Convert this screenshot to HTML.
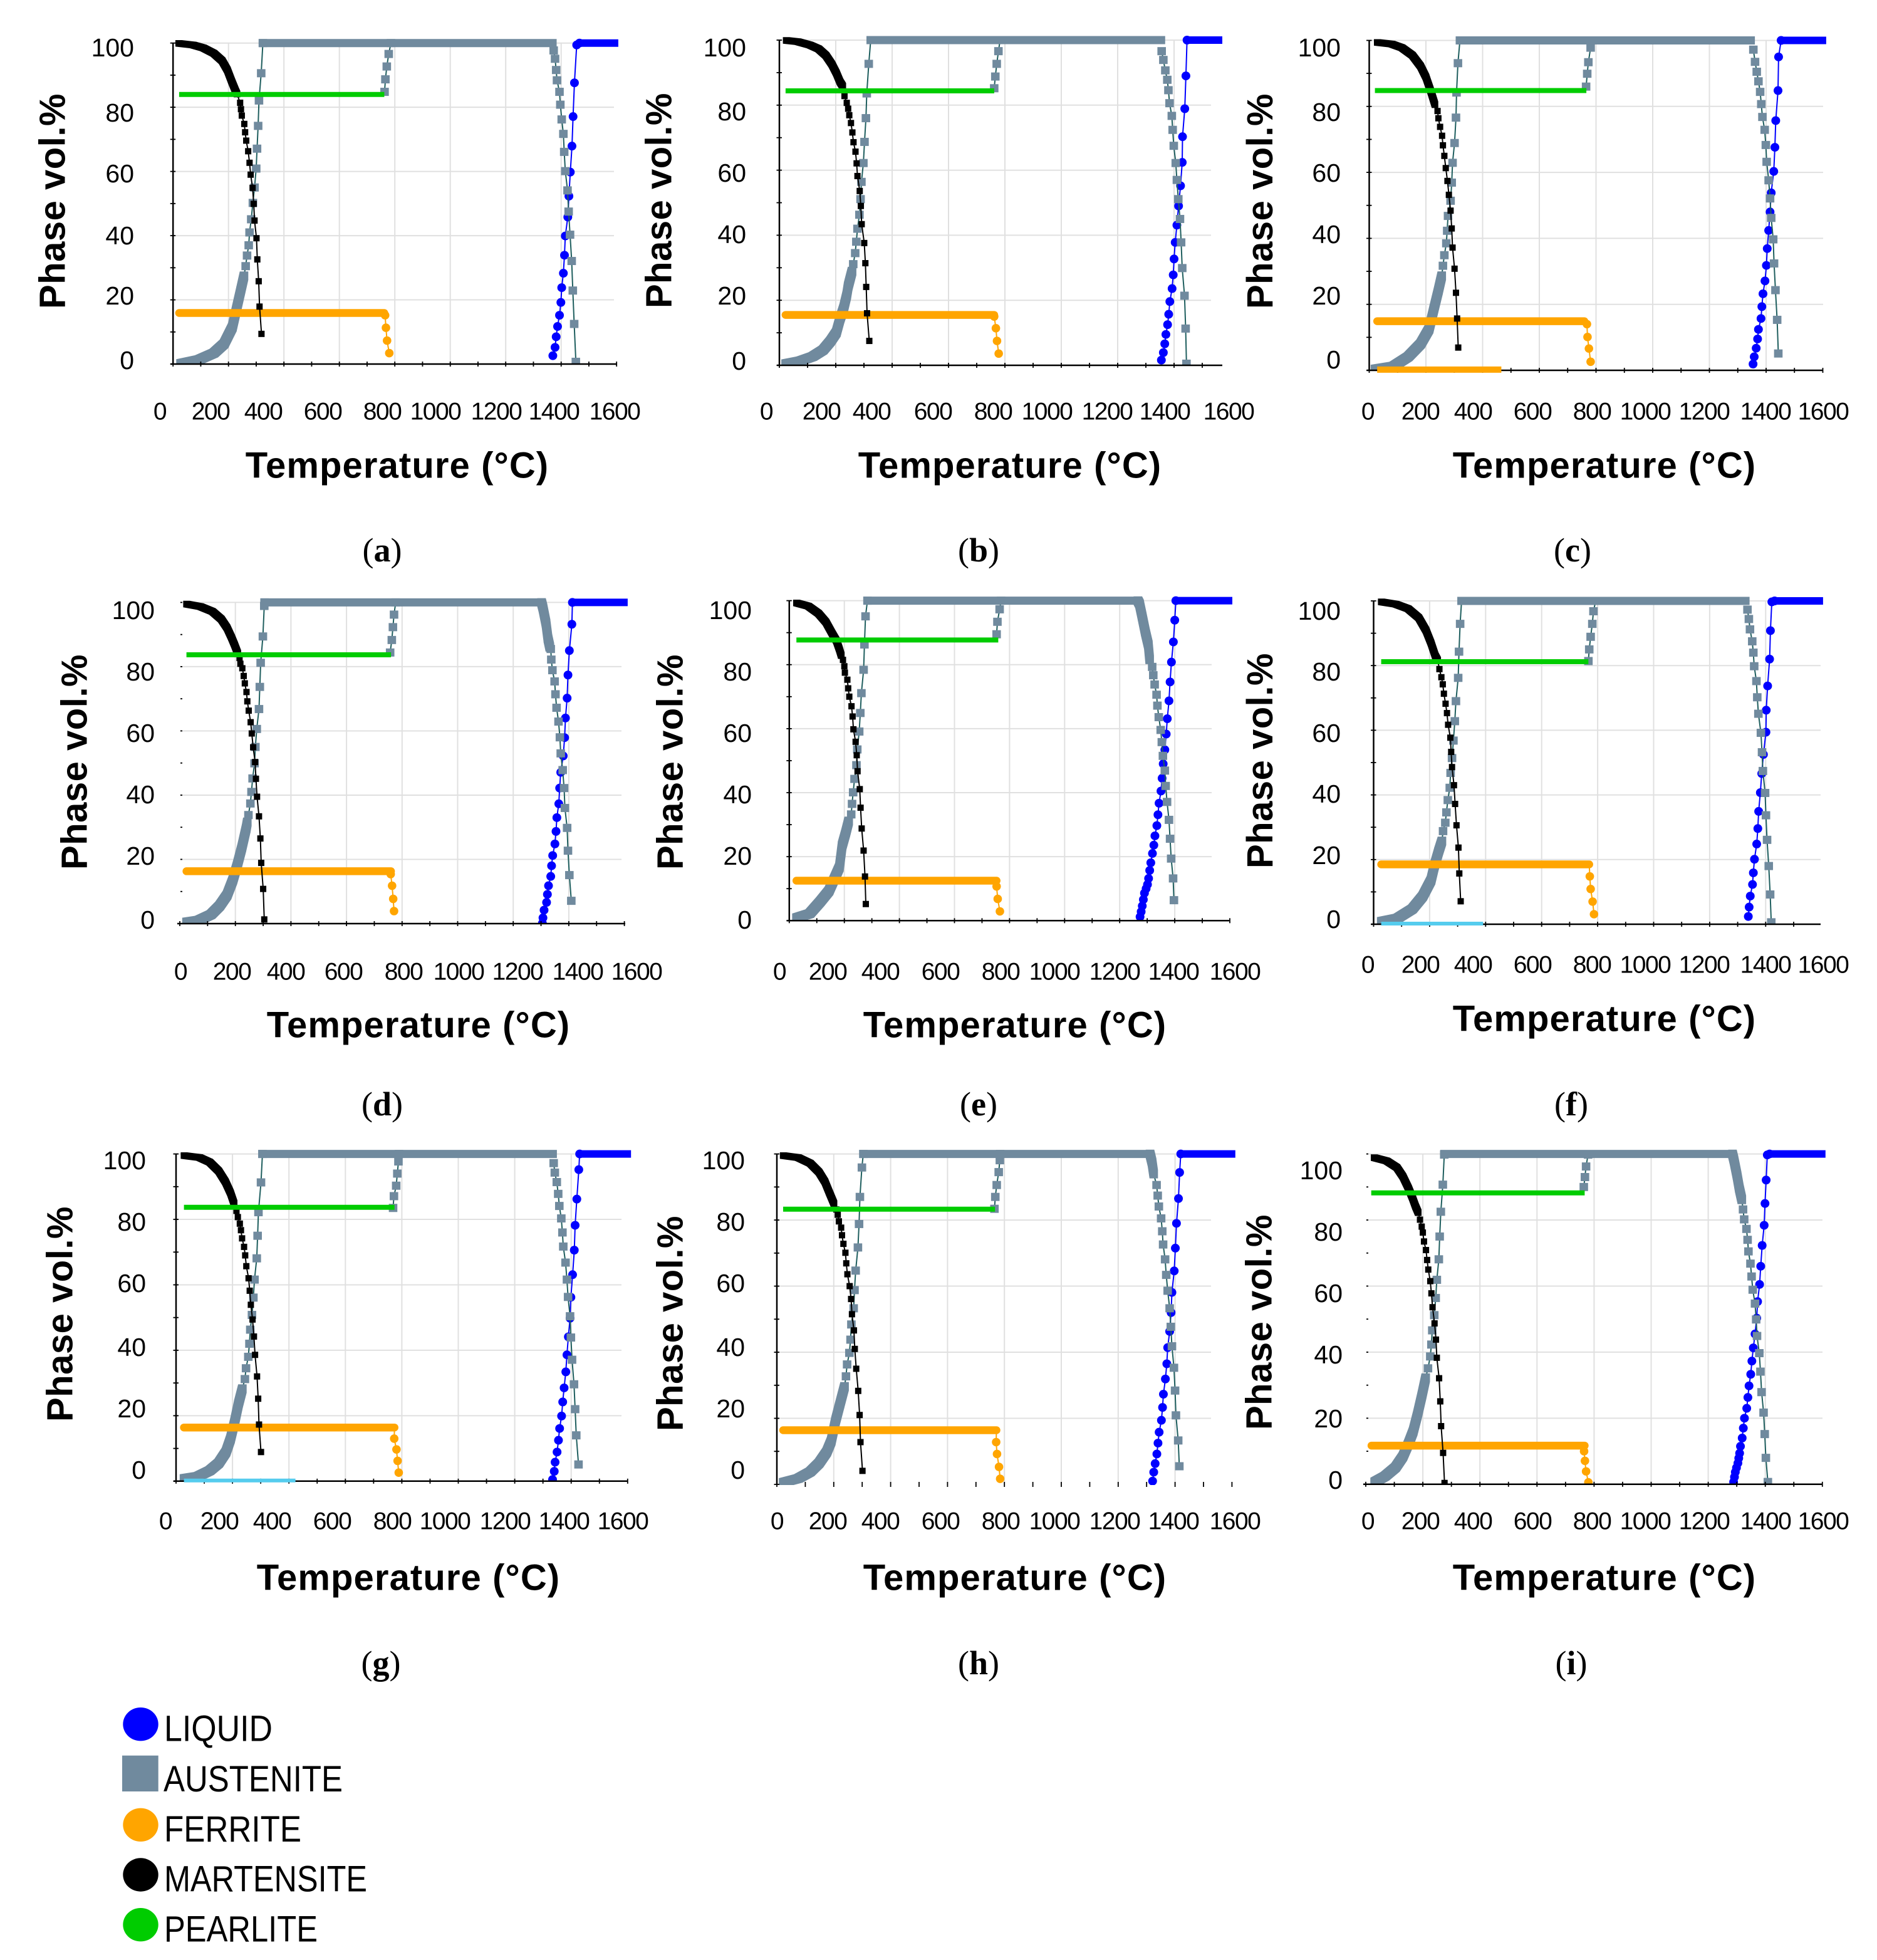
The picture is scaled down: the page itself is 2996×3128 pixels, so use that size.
<!DOCTYPE html>
<html lang="en">
<head>
<meta charset="utf-8">
<title>Phase fraction versus temperature panels</title>
<style>
html,body{margin:0;padding:0;background:#fff;}
svg{display:block;}
text{font-family:"Liberation Sans",sans-serif;fill:#000;}
</style>
</head>
<body>
<svg id="figure" xmlns="http://www.w3.org/2000/svg" width="2996" height="3128" viewBox="0 0 2996 3128">
<rect x="0" y="0" width="2996" height="3128" fill="#fff"/>
<g id="panels"></g>
<g>
<g><ellipse cx="224.5" cy="2751.7" rx="28.2" ry="26.7" fill="#0000ff"/><text x="262" y="2778.3" font-size="58" textLength="173" lengthAdjust="spacingAndGlyphs">LIQUID</text></g>
<g><rect x="195" y="2801.7" width="57.7" height="57.3" fill="#708a9e"/><text x="261" y="2859" font-size="58" textLength="286" lengthAdjust="spacingAndGlyphs">AUSTENITE</text></g>
<g><ellipse cx="224.5" cy="2912.3" rx="28.2" ry="26.7" fill="#ffa500"/><text x="262" y="2939" font-size="58" textLength="219" lengthAdjust="spacingAndGlyphs">FERRITE</text></g>
<g><ellipse cx="224.5" cy="2992" rx="28.2" ry="26.7" fill="#000"/><text x="262" y="3018.3" font-size="58" textLength="324" lengthAdjust="spacingAndGlyphs">MARTENSITE</text></g>
<g><ellipse cx="224.5" cy="3071.7" rx="28.2" ry="26.7" fill="#00cc00"/><text x="262" y="3098.3" font-size="58" textLength="245" lengthAdjust="spacingAndGlyphs">PEARLITE</text></g>
</g>
</svg>
<script>
// Tick labels and titles
const xTickLabels = ['0','200','400','600','800','1000','1200','1400','1600'];
const yTickLabels = ['100','80','60','40','20','0'];
const xMajorTicks = [200,400,600,800,1000,1200,1400];
const yMajorTicks = [20,40,60,80,100];
const xAllTicks = [0,100,200,300,400,500,600,700,800,900,1000,1100,1200,1300,1400,1500,1600];
const yAllTicks = [0,10,20,30,40,50,60,70,80,90,100];

// Panel (a): each pair is [temperature C, phase vol %]
const aMartBand = [[20,99.9],[72,99.4],[109,98.5],[147,96.8],[177,94.5],[196,91.6],[211,88.2],[226,85],[231,84.1]];
const aMart = [[242,81.4],[245,79.4],[248,77.4],[257,74.8],[260,72.2],[264,69.6],[271,66.3],[276,62.7],[280,59],[287,54.9],[291,49.9],[294,44.7],[301,39.2],[304,32.6],[309,25.8],[312,17.9],[319,9.4]];
const aAustBand = [[27,.2],[94,1.4],[147,3.4],[184,6.3],[214,11.5],[229,17.2],[244,22.9],[256,27.5]];
const aAust = [[262,30.5],[267,33.8],[273,37],[276,41],[282,45.1],[288,50.2],[294,55],[300,60.9],[303,67.1],[307,74.2],[310,82.1],[318,90.6],[324,100]];
const aAustFlat = [[324,100],[1369,100]];
const aMeltBand = [];
const aMelt = [[1373,97.7],[1378,95.1],[1382,91.6],[1385,88.4],[1394,84.8],[1397,80.8],[1402,76.2],[1408,71.7],[1411,66.1],[1415,60.1],[1423,54.1],[1427,47.5],[1432,40.3],[1438,32.1],[1442,22.9],[1447,12.5],[1453,.7]];
const aLiq = [[1370,2.6],[1378,5.2],[1382,8.5],[1387,11.7],[1394,15.2],[1399,19.2],[1402,23.8],[1408,28.3],[1412,33.9],[1415,39.9],[1424,45.8],[1428,52.3],[1433,59.8],[1439,67.9],[1443,77.1],[1448,87.6],[1456,99.4]];
const aLiqFlat = [[1466,100],[1606,100]];
const aFerFlat = [[22,15.9],[762,15.9]];
const aFer = [[765,15.2],[768,11.3],[772,7.3],[780,3.4]];
const aAust2 = [[763,84.8],[766,88.7],[771,92.7],[778,96.6],[786,100]];
const aPearl = [[22,84],[762,84]];
const aLowFlat = [];

// Panel (b)
const bMartBand = [[24,99.9],[66,99.5],[108,98.5],[139,97.3],[165,95.3],[186,92.6],[202,89.9],[215,87.2],[225,85.8]];
const bMart = [[231,82.8],[239,80.7],[244,78.9],[248,76.9],[254,74.5],[259,71.6],[263,68.6],[270,65.7],[274,62.1],[277,58.2],[285,53.6],[289,49],[292,43.4],[301,37.6],[305,31.4],[308,24.1],[311,16],[319,7.5]];
const bAustBand = [[22,.5],[76,1.4],[118,2.7],[155,4.7],[181,7.4],[202,10.1],[215,14.2],[228,17.6],[239,21.6],[244,24.3],[252,27],[258,29]];
const bAust = [[262,31.1],[269,34.5],[273,38],[277,42],[284,46.3],[288,51.1],[291,56.4],[298,62.2],[302,68.7],[307,76],[310,83.6],[317,92.7],[324,100]];
const bAustFlat = [[324,100],[1354,100]];
const bMeltBand = [];
const bMelt = [[1356,96.6],[1362,93.9],[1369,90.7],[1376,87.8],[1380,84.6],[1384,80.6],[1392,76.7],[1395,72.4],[1399,67.5],[1406,62.2],[1410,57],[1415,51.1],[1421,45],[1425,37.8],[1429,29.9],[1437,21.4],[1441,11.3],[1444,.5]];
const bLiq = [[1355,1.6],[1362,3.9],[1367,6.6],[1371,9.5],[1377,12.5],[1381,15.7],[1385,19.6],[1393,23.6],[1397,27.8],[1400,32.7],[1404,37.8],[1410,43.1],[1416,49],[1423,55.2],[1429,62.4],[1430,70.3],[1438,78.9],[1442,89]];
const bLiqFlat = [[1446,100],[1571,100]];
const bFerFlat = [[22,15.5],[762,15.5]];
const bFer = [[762,15],[768,11.4],[772,7.5],[778,3.6]];
const bAust2 = [[762,85.2],[766,88.8],[771,92.7],[777,96.6],[783,100]];
const bPearl = [[22,84.4],[762,84.4]];
const bLowFlat = [];

// Panel (c)
const cMartBand = [[28,99.4],[79,98.9],[115,97.8],[152,95.5],[181,92.2],[200,88.9],[218,84.4],[232,80.5]];
const cMart = [[241,78.6],[244,76.4],[250,73.8],[257,71.1],[260,68.2],[265,65],[270,61.3],[276,57.4],[281,53.2],[287,48.4],[291,43],[294,37.2],[301,30.8],[306,23.5],[310,15.7],[314,6.9]];
const cAustBand = [[20,.4],[86,1.3],[137,4.1],[181,8],[211,12.5],[228,18.6],[244,24.2],[256,28.7]];
const cAust = [[260,31.7],[265,34.9],[272,38.5],[275,42.3],[278,46.8],[287,51.4],[291,56.9],[294,62.9],[301,68.9],[306,76.6],[308,84.2],[313,93.1],[320,100]];
const cAustFlat = [[320,100],[1346,100]];
const cMeltBand = [];
const cMelt = [[1355,97.2],[1361,93.5],[1367,90.5],[1373,87.6],[1379,84.4],[1383,80.7],[1387,76.8],[1395,72.9],[1399,68.3],[1402,63.2],[1409,57.6],[1414,52.1],[1418,46.2],[1425,39.7],[1428,32.4],[1433,24.3],[1439,15.3],[1443,5.1]];
const cLiq = [[1354,1.9],[1358,4.1],[1365,6.7],[1370,9.5],[1373,12.4],[1382,15.7],[1385,19.3],[1389,23.2],[1396,27.1],[1401,31.8],[1404,36.9],[1409,42.4],[1414,48],[1418,53.8],[1427,60.3],[1431,67.6],[1434,75.7],[1442,84.8],[1444,95]];
const cLiqFlat = [[1453,100],[1612,100]];
const cFerFlat = [[28,14.9],[759,14.9]];
const cFer = [[768,14],[770,10.1],[775,6.6],[781,2.6]];
const cAust2 = [[765,86],[769,89.9],[773,93.4],[781,97.8],[781,100]];
const cPearl = [[20,84.8],[766,84.8]];
const cLowFlat = [[28,.2],[466,.2]];

// Panel (d)
const dMartBand = [[24,99.5],[74,98.7],[117,97.2],[149,94.8],[170,92.1],[186,89.1],[197,86.8],[209,84.1]];
const dMart = [[215,82.7],[218,80.9],[225,79.5],[230,77.1],[234,74.8],[240,72.1],[243,69.2],[248,66.3],[255,62.7],[259,59.2],[264,54.9],[271,50.3],[274,45.1],[278,39.5],[285,33.4],[290,26.5],[293,18.9],[300,10.8],[304,1.3]];
const dAustBand = [[24,.5],[69,1.1],[112,2.8],[143,5.5],[170,8.9],[191,13.6],[207,18.3],[223,23.6],[239,29.7],[243,31.7]];
const dAust = [[247,33.8],[254,37.4],[258,41],[262,45.2],[269,49.9],[272,55],[277,60.6],[285,66.8],[288,73.7],[291,81.2],[299,89.4],[304,98.9],[305,100]];
const dAustFlat = [[305,100],[1302,100]];
const dMeltBand = [[1302,100],[1307,98.2],[1318,93.5],[1325,88.8],[1332,86]];
const dMelt = [[1335,85.5],[1337,82.2],[1341,78.9],[1349,75.4],[1352,71.4],[1356,67.2],[1363,62.9],[1368,58],[1371,53],[1378,47.8],[1383,42.2],[1386,36],[1394,29.8],[1397,22.7],[1402,15.1],[1409,7.1]];
const dLiq = [[1305,.1],[1307,1.8],[1311,4.2],[1320,6.6],[1323,9.1],[1327,11.8],[1335,14.7],[1338,18],[1342,21.2],[1350,24.8],[1354,28.7],[1357,33],[1364,37.3],[1367,42.2],[1371,47.1],[1380,52.2],[1385,57.9],[1388,64],[1394,70.2],[1397,77.4],[1402,85],[1411,93.2]];
const dLiqFlat = [[1413,100],[1612,100]];
const dFerFlat = [[24,16.3],[760,16.3]];
const dFer = [[759,15.4],[764,11.8],[768,7.7],[771,3.9]];
const dAust2 = [[757,84.4],[763,88.3],[767,92.3],[771,96.2],[777,100]];
const dPearl = [[24,83.7],[760,83.7]];
const dLowFlat = [];

// Panel (e)
const eMartBand = [[26,99.3],[69,98.3],[106,96],[133,93.3],[155,89.9],[171,87.5],[182,84.8],[189,82.8]];
const eMart = [[195,81.5],[200,79.5],[202,77.5],[211,75.3],[214,72.6],[218,70],[226,67],[230,63.8],[233,59.8],[241,55.9],[245,51.7],[248,46.7],[256,41.1],[259,35.3],[263,28.8],[270,21.9],[275,13.8],[278,5.2]];
const eAustBand = [[26,.9],[74,2.2],[112,5.9],[144,9.3],[165,13.4],[182,16.7],[192,23.5],[205,27.5],[216,31.2]];
const eAust = [[225,33.2],[228,36.5],[232,40.1],[237,44.3],[244,48.6],[247,53.5],[254,59.1],[258,64.9],[262,71.1],[270,78.4],[273,86.3],[277,95.1],[284,100]];
const eAustFlat = [[284,100],[1266,100]];
const eMeltBand = [[1266,100],[1272,99],[1282,94.9],[1293,90.2],[1304,86.2],[1309,81.5]];
const eMelt = [[1318,79.3],[1322,76.7],[1327,73.8],[1334,70.6],[1337,67.2],[1342,63.6],[1349,59.6],[1353,55.8],[1357,51.5],[1364,46.9],[1367,42.1],[1372,37.1],[1379,31.5],[1383,25.6],[1387,19.4],[1394,13.2],[1397,6.4]];
const eLiq = [[1274,1.2],[1278,2.8],[1282,4.6],[1286,6.6],[1290,8.6],[1296,10],[1301,11.3],[1305,13.2],[1309,15.7],[1313,18.1],[1319,21],[1324,23.6],[1328,26.5],[1335,29.7],[1339,33.1],[1343,36.7],[1350,40.5],[1354,44.5],[1358,49],[1364,53.4],[1369,58.3],[1373,63.1],[1379,68.7],[1383,74.6],[1388,80.8],[1395,87.1],[1400,93.9]];
const eLiqFlat = [[1404,100],[1609,100]];
const eFerFlat = [[26,12.5],[753,12.5]];
const eFer = [[753,10.7],[757,6.8],[765,2.9]];
const eAust2 = [[753,89.5],[756,93.4],[764,97.3],[769,100]];
const ePearl = [[26,87.7],[759,87.7]];
const eLowFlat = [];

// Panel (f)
const fMartBand = [[27,99.7],[79,99],[123,97.6],[161,94.8],[187,90.9],[205,87],[220,83.1],[229,81.6]];
const fMart = [[235,78.9],[242,76.4],[247,74.2],[251,71.3],[257,68.2],[262,65.3],[266,61.7],[274,57.7],[277,53.3],[280,48.6],[287,43],[291,37.2],[296,30.6],[303,23.7],[306,15.7],[311,7.1]];
const fAustBand = [[27,.9],[86,1.9],[138,4.7],[175,8.6],[205,13.6],[217,18],[232,22.5],[244,25.8]];
const fAust = [[248,28.8],[256,31.4],[260,34.6],[265,38.4],[272,42.2],[275,46.8],[280,51.4],[285,56.8],[290,62.8],[294,69],[302,76.2],[305,84.3],[309,92.9],[314,100]];
const fAustFlat = [[314,100],[1328,100]];
const fMeltBand = [];
const fMelt = [[1335,97.3],[1340,94.4],[1344,91.2],[1352,87.5],[1356,84],[1359,79.8],[1367,75.2],[1370,70.2],[1374,65.1],[1383,59.2],[1387,53.2],[1390,47.4],[1398,40.6],[1401,33.7],[1405,26.1],[1411,18],[1416,9.2],[1420,.6]];
const fLiq = [[1338,2.4],[1341,5.3],[1345,8.7],[1353,12.3],[1356,15.9],[1360,20.1],[1368,24.8],[1372,29.6],[1375,34.9],[1381,40.7],[1386,46.6],[1392,52.5],[1401,59.4],[1402,66.2],[1407,73.7],[1414,82],[1417,90.8],[1422,99.7]];
const fLiqFlat = [[1432,100],[1605,100]];
const fFerFlat = [[27,18.5],[770,18.5]];
const fFer = [[772,14.8],[775,10.9],[782,7],[787,3.1]];
const fAust2 = [[767,81.4],[770,85],[775,88.9],[781,92.9],[785,96.8],[793,100]];
const fPearl = [[27,81.2],[767,81.2]];
const fLowFlat = [[27,.2],[391,.2]];

// Panel (g)
const gMartBand = [[28,99.5],[83,98.9],[119,97.5],[151,94.8],[175,91.5],[193,88.1],[206,84.8]];
const gMart = [[214,82.6],[219,80.7],[226,78.7],[230,76.7],[234,74.2],[241,71.6],[245,69],[249,65.7],[257,62],[261,58.2],[265,53.9],[271,49.4],[276,44.2],[280,38.6],[287,32],[291,25.2],[294,17.3],[301,8.9]];
const gAustBand = [[28,.8],[78,1.5],[119,3.2],[151,5.5],[177,8.9],[193,12.9],[208,18.3],[221,23.6],[235,28.3]];
const gAust = [[244,31.2],[248,34.5],[256,38],[260,42],[263,46.3],[269,50.8],[274,56.1],[278,61.6],[286,68.1],[289,75],[292,82.2],[301,91.3],[306,100]];
const gAustFlat = [[306,100],[1335,100]];
const gMeltBand = [];
const gMelt = [[1338,97.2],[1342,94.3],[1349,91.4],[1354,87.8],[1358,84.1],[1365,80.3],[1369,76],[1372,71.7],[1380,66.8],[1385,61.6],[1389,56.3],[1396,50.4],[1399,43.9],[1403,37.1],[1410,29.6],[1414,22],[1418,14],[1426,5.1]];
const gLiq = [[1334,.5],[1340,3],[1343,5.8],[1350,8.9],[1355,12.5],[1359,16.1],[1366,19.9],[1370,24.2],[1375,28.5],[1381,33.4],[1385,38.6],[1390,44.1],[1396,49.8],[1399,56.2],[1405,63.1],[1411,70.6],[1414,78.2],[1420,86.2],[1427,95.2]];
const gLiqFlat = [[1430,100],[1612,100]];
const gFerFlat = [[28,16.4],[774,16.4]];
const gFer = [[773,13],[781,9.7],[785,6.2],[789,2.6]];
const gAust2 = [[769,83.5],[772,87.1],[780,90.3],[784,94],[788,97.7],[790,100]];
const gPearl = [[28,83.7],[774,83.7]];
const gLowFlat = [[28,.2],[423,.2]];

// Panel (h)
const hMartBand = [[22,99.5],[75,98.9],[117,97.2],[148,94.5],[169,91.6],[185,88.2],[201,84.9]];
const hMart = [[209,83.2],[214,81.6],[218,79.6],[226,77.7],[229,75.4],[234,72.8],[241,70.1],[244,66.9],[248,63.6],[256,60],[261,56.1],[264,51.5],[271,46.6],[274,41],[279,35],[286,28.3],[291,21],[294,12.8],[301,4.1]];
const hAustBand = [[22,.6],[75,1.8],[117,3.8],[148,6.4],[175,9.8],[191,13.1],[206,19.1],[222,24.4],[238,29.7]];
const hAust = [[243,32.7],[247,36.3],[255,39.8],[259,43.8],[262,48.4],[270,53.3],[273,58.8],[277,64.7],[285,71.7],[289,78.8],[292,87],[299,95.9],[304,100]];
const hAustFlat = [[304,100],[1312,100]];
const hMeltBand = [[1312,100],[1319,97.5],[1325,93.9]];
const hMelt = [[1335,90.6],[1339,87.4],[1343,84.1],[1351,80.5],[1355,76.6],[1358,72.6],[1365,68.1],[1369,63.4],[1374,58.6],[1381,53.3],[1385,47.7],[1389,41.8],[1396,35.3],[1400,28.4],[1403,20.9],[1411,13.3],[1415,5.5]];
const hLiq = [[1321,1],[1325,3.7],[1330,6.3],[1336,9.2],[1340,12.5],[1344,15.8],[1352,19.4],[1356,23.3],[1359,27.3],[1366,31.9],[1371,36.5],[1374,41.4],[1381,46.3],[1386,52],[1389,58.1],[1397,64.6],[1401,71.5],[1405,79],[1412,86.5],[1416,94.4]];
const hLiqFlat = [[1420,100],[1612,100]];
const hFerFlat = [[22,16.4],[772,16.4]];
const hFer = [[771,12.8],[774,9.2],[781,5.3],[785,1.7]];
const hAust2 = [[765,83.4],[768,87],[773,90.6],[780,94.5],[784,98.1],[785,100]];
const hPearl = [[22,83.3],[767,83.3]];
const hLowFlat = [];

// Panel (i)
const iMartBand = [[29,98.9],[73,97.9],[109,95.9],[130,93.2],[150,89.6],[164,86.6],[174,84.2],[184,82.2]];
const iMart = [[190,80.1],[196,78],[200,76.2],[204,73.5],[211,70.9],[215,67.9],[219,65],[226,61.5],[230,57.8],[234,53.6],[241,48.7],[246,43.8],[249,38.3],[257,32.1],[261,25.1],[264,17.6],[271,9.5],[276,.4]];
const iAustBand = [[31,.7],[67,2.4],[104,5.1],[130,8.4],[150,12.4],[166,16],[181,21],[197,27],[210,32.3]];
const iAust = [[218,35.1],[226,38.7],[230,42.3],[233,46.6],[240,51.2],[245,56.4],[249,61.9],[256,68.1],[259,75],[263,82.5],[270,90.7],[275,99.8]];
const iAustFlat = [[275,100],[1285,100]];
const iMeltBand = [[1285,100],[1290,98.2],[1301,93.5],[1309,89.6],[1318,86.1]];
const iMelt = [[1322,83.2],[1326,80.2],[1334,77.3],[1338,74],[1341,70.5],[1348,66.8],[1352,62.9],[1356,58.9],[1364,54.7],[1368,49.9],[1371,44.9],[1379,39.7],[1383,34.1],[1387,27.9],[1394,21.7],[1398,15.2],[1402,8],[1409,.7]];
const iLiq = [[1289,.7],[1292,2.2],[1295,3.7],[1299,5],[1304,6.4],[1307,7.9],[1310,9.4],[1313,11.5],[1319,14],[1323,17],[1327,20],[1335,23],[1339,26.3],[1343,29.8],[1349,33.3],[1353,37.3],[1358,41.3],[1364,45.5],[1370,50.3],[1373,55.3],[1380,60.5],[1384,66],[1389,72.3],[1396,78.4],[1399,85],[1403,92.1],[1407,99.7]];
const iLiqFlat = [[1415,100],[1611,100]];
const iFerFlat = [[20,11.7],[767,11.7]];
const iFer = [[765,10],[768,7.1],[772,3.9],[780,.6]];
const iAust2 = [[764,90],[768,93],[772,96.2],[779,99.8]];
const iPearl = [[19,88.2],[767,88.2]];
const iLowFlat = [];

// Layout of each panel (axis frame, label placement); not chart data
const rightColumnLabelX = [2183,2267,2351,2446,2541,2626,2720,2818,2910];
const panelLayouts = [
 {id:'a',x0:276.2,per200:88.5,y0:581,y100:68.7,xEnd:984,gridEnd:980,showY:true,showX:true,yLabelRight:214,yLabelY:[76,180,277,376,472,575],xLabelY:657,xLabelX:[255,336,420,515,610,695,792,884,981],yTitle:[84,321],xTitle:[634,743],caption:[610,878],lowColor:'#ffa500'},
 {id:'b',x0:1244,per200:90,y0:583,y100:64,xEnd:1951,gridEnd:1933,showY:true,showX:true,yLabelRight:1191,yLabelY:[76,178,276,374,472,576],xLabelY:657,xLabelX:[1223,1311,1391,1489,1585,1671,1767,1859,1961],yTitle:[1052,320],xTitle:[1612,743],caption:[1562,878],lowColor:'#ffa500'},
 {id:'c',x0:2185.5,per200:90.5,y0:591,y100:64.5,xEnd:2910,gridEnd:2910,showY:true,showX:true,yLabelRight:2140,yLabelY:[76,179,276,374,472,574],xLabelY:657,xLabelX:rightColumnLabelX,yTitle:[2011.5,321],xTitle:[2561,743],caption:[2510,878],lowColor:'#ffa500'},
 {id:'d',x0:287,per200:88.7,y0:1474,y100:961.4,xEnd:998,gridEnd:992,showY:false,showX:true,yLabelRight:247,yLabelY:[974,1072,1170,1268,1366,1468],xLabelY:1551,xLabelX:[288,370,456,548,644,732,826,922,1016],yTitle:[119,1216],xTitle:[668,1636],caption:[610,1762],lowColor:'#ffa500'},
 {id:'e',x0:1259.8,per200:87.9,y0:1469.3,y100:958.6,xEnd:1962,gridEnd:1934,showY:true,showX:true,yLabelRight:1200,yLabelY:[974,1072,1170,1268,1366,1468],xLabelY:1551,xLabelX:[1244,1321,1405,1501,1597,1683,1779,1873,1971],yTitle:[1070,1216],xTitle:[1620,1636],caption:[1562,1762],lowColor:'#ffa500'},
 {id:'f',x0:2192.5,per200:89.4,y0:1475,y100:959,xEnd:2906,gridEnd:2906,showY:true,showX:true,yLabelRight:2140,yLabelY:[975,1072,1170,1267,1365,1467],xLabelY:1540,xLabelX:rightColumnLabelX,yTitle:[2011.5,1214],xTitle:[2561,1626],caption:[2508,1762],lowColor:'#55ccee'},
 {id:'g',x0:281,per200:90.1,y0:2363.8,y100:1841.6,xEnd:1002,gridEnd:992,showY:true,showX:true,yLabelRight:233,yLabelY:[1852,1950,2048,2150,2248,2346],xLabelY:2428,xLabelX:[264,350,434,530,626,710,806,900,994],yTitle:[96,2097],xTitle:[652,2518],caption:[608,2654],lowColor:'#55ccee'},
 {id:'h',x0:1240,per200:90.8,y0:2369,y100:1841.6,xEnd:1968,gridEnd:1933,showY:true,showX:false,yLabelRight:1189,yLabelY:[1852,1950,2048,2150,2248,2346],xLabelY:2428,xLabelX:[1240,1321,1405,1501,1597,1683,1779,1873,1971],yTitle:[1070,2112],xTitle:[1620,2518],caption:[1562,2654],lowColor:'#ffa500'},
 {id:'i',x0:2180,per200:91.1,y0:2368.8,y100:1841.6,xEnd:2909,gridEnd:2909,showY:false,showX:true,yLabelRight:2143,yLabelY:[1868,1966,2064,2162,2264,2362],xLabelY:2428,xLabelX:rightColumnLabelX,yTitle:[2010,2110],xTitle:[2561,2518],caption:[2508,2654],lowColor:'#ffa500'}
];

// Which arrays belong to which panel
const panelData = {
 a:[aMartBand,aMart,aAustBand,aAust,aAustFlat,aMeltBand,aMelt,aLiq,aLiqFlat,aFerFlat,aFer,aAust2,aPearl,aLowFlat],
 b:[bMartBand,bMart,bAustBand,bAust,bAustFlat,bMeltBand,bMelt,bLiq,bLiqFlat,bFerFlat,bFer,bAust2,bPearl,bLowFlat],
 c:[cMartBand,cMart,cAustBand,cAust,cAustFlat,cMeltBand,cMelt,cLiq,cLiqFlat,cFerFlat,cFer,cAust2,cPearl,cLowFlat],
 d:[dMartBand,dMart,dAustBand,dAust,dAustFlat,dMeltBand,dMelt,dLiq,dLiqFlat,dFerFlat,dFer,dAust2,dPearl,dLowFlat],
 e:[eMartBand,eMart,eAustBand,eAust,eAustFlat,eMeltBand,eMelt,eLiq,eLiqFlat,eFerFlat,eFer,eAust2,ePearl,eLowFlat],
 f:[fMartBand,fMart,fAustBand,fAust,fAustFlat,fMeltBand,fMelt,fLiq,fLiqFlat,fFerFlat,fFer,fAust2,fPearl,fLowFlat],
 g:[gMartBand,gMart,gAustBand,gAust,gAustFlat,gMeltBand,gMelt,gLiq,gLiqFlat,gFerFlat,gFer,gAust2,gPearl,gLowFlat],
 h:[hMartBand,hMart,hAustBand,hAust,hAustFlat,hMeltBand,hMelt,hLiq,hLiqFlat,hFerFlat,hFer,hAust2,hPearl,hLowFlat],
 i:[iMartBand,iMart,iAustBand,iAust,iAustFlat,iMeltBand,iMelt,iLiq,iLiqFlat,iFerFlat,iFer,iAust2,iPearl,iLowFlat]
};

const NS = 'http://www.w3.org/2000/svg';
const BLUE = '#0000ff', STEEL = '#708a9e', TEAL = '#1e5e5e', ORANGE = '#ffa500', GREEN = '#00cc00';

function make(parent, tag, attrs, name) {
  const el = document.createElementNS(NS, tag);
  for (const k in attrs) el.setAttribute(k, attrs[k]);
  
  
  parent.appendChild(el);
  return el;
}

function drawPanel(L, D) {
  const [martBand, mart, austBand, aust, austFlat, meltBand, melt, liq, liqFlat, ferFlat, fer, aust2, pearl, lowFlat] = D;
  const xScale = t => L.x0 + t * L.per200 / 200;
  const yScale = v => L.y0 - v / 100 * (L.y0 - L.y100);
  const pts = arr => arr.map(p => xScale(p[0]).toFixed(1) + ',' + yScale(p[1]).toFixed(1)).join(' ');
  // A run of closely spaced square markers merges into a blocky band: sweep a square along each segment
  const sweep = (parent, arr, h, color, name) => {
    for (let i = 0; i + 1 < arr.length; i++) {
      const x1 = xScale(arr[i][0]), y1 = yScale(arr[i][1]), x2 = xScale(arr[i + 1][0]), y2 = yScale(arr[i + 1][1]);
      const hull = y2 <= y1
        ? [[x1-h,y1-h],[x2-h,y2-h],[x2+h,y2-h],[x2+h,y2+h],[x1+h,y1+h],[x1-h,y1+h]]
        : [[x1-h,y1-h],[x1+h,y1-h],[x2+h,y2-h],[x2+h,y2+h],[x2-h,y2+h],[x1-h,y1+h]];
      make(parent, 'polygon', {points:hull.map(q => q[0].toFixed(1) + ',' + q[1].toFixed(1)).join(' '), fill:color}, name);
    }
  };
  const root = document.getElementById('panels');
  const g = make(root, 'g', {}, 'panel-' + L.id);

  const clip = make(g, 'clipPath', {id:'plot-clip-' + L.id}, 'plot-clip-' + L.id);
  make(clip, 'rect', {x:L.x0 - 40, y:L.y100 - 40, width:L.xEnd - L.x0 + 80, height:L.y0 - L.y100 + 41}, 'plot-clip-rect');
  const clipRef = 'url(#plot-clip-' + L.id + ')';

  // Gridlines
  xMajorTicks.forEach(t => {
    make(g, 'line', {x1:xScale(t), x2:xScale(t), y1:yScale(100), y2:yScale(0), stroke:'#e0e0e0', 'stroke-width':2}, 'vertical-gridline-' + t);
  });
  yMajorTicks.forEach(v => {
    make(g, 'line', {x1:L.x0, x2:L.gridEnd, y1:yScale(v), y2:yScale(v), stroke:'#e0e0e0', 'stroke-width':2}, 'horizontal-gridline-' + v);
  });

  // Liquid
  const liqGroup = make(g, 'g', {'clip-path':clipRef}, 'series-liquid');
  make(liqGroup, 'polyline', {points:pts(liq.concat(liqFlat.slice(0,1))), fill:'none', stroke:BLUE, 'stroke-width':2}, 'liquid-line');
  make(liqGroup, 'polyline', {points:pts(liqFlat), fill:'none', stroke:BLUE, 'stroke-width':12}, 'liquid-plateau');
  liq.concat(liqFlat.slice(0,1)).forEach(p => {
    make(liqGroup, 'circle', {cx:xScale(p[0]), cy:yScale(p[1]), r:7, fill:BLUE}, 'liquid-point');
  });

  // Austenite
  const austGroup = make(g, 'g', {'clip-path':clipRef}, 'series-austenite');
  make(austGroup, 'polyline', {points:pts(austBand.concat(aust)), fill:'none', stroke:TEAL, 'stroke-width':2}, 'austenite-rise-line');
  make(austGroup, 'polyline', {points:pts(meltBand.concat(melt)), fill:'none', stroke:TEAL, 'stroke-width':2}, 'austenite-melt-line');
  make(austGroup, 'polyline', {points:pts(aust2), fill:'none', stroke:TEAL, 'stroke-width':2}, 'austenite-step-line');
  sweep(austGroup, austBand, 6.8, STEEL, 'austenite-rise-band');
  sweep(austGroup, meltBand, 6.8, STEEL, 'austenite-melt-band');
  make(austGroup, 'polyline', {points:pts(austFlat), fill:'none', stroke:STEEL, 'stroke-width':13, 'stroke-linecap':'square'}, 'austenite-plateau');
  aust.concat(melt, aust2).forEach(p => {
    make(austGroup, 'rect', {x:xScale(p[0]) - 6.8, y:yScale(p[1]) - 6.5, width:13.6, height:13, fill:STEEL}, 'austenite-point');
  });

  // Ferrite
  const ferGroup = make(g, 'g', {'clip-path':clipRef}, 'series-ferrite');
  make(ferGroup, 'polyline', {points:pts(ferFlat.concat(fer)), fill:'none', stroke:ORANGE, 'stroke-width':2}, 'ferrite-line');
  make(ferGroup, 'polyline', {points:pts(ferFlat), fill:'none', stroke:ORANGE, 'stroke-width':12.5, 'stroke-linecap':'round'}, 'ferrite-plateau');
  fer.forEach(p => {
    make(ferGroup, 'circle', {cx:xScale(p[0]), cy:yScale(p[1]), r:6.8, fill:ORANGE}, 'ferrite-point');
  });

  // Martensite
  const martGroup = make(g, 'g', {'clip-path':clipRef}, 'series-martensite');
  make(martGroup, 'polyline', {points:pts(martBand.concat(mart)), fill:'none', stroke:'#000', 'stroke-width':2}, 'martensite-line');
  sweep(martGroup, martBand, 5.2, '#000', 'martensite-band');
  mart.forEach(p => {
    make(martGroup, 'rect', {x:xScale(p[0]) - 5, y:yScale(p[1]) - 5, width:10, height:10, fill:'#000'}, 'martensite-point');
  });

  // Pearlite
  make(g, 'polyline', {points:pts(pearl), fill:'none', stroke:GREEN, 'stroke-width':8}, 'series-pearlite');

  // Axes
  const axisX = make(g, 'g', {}, 'x-axis');
  if (L.showX) make(axisX, 'line', {x1:L.x0 - 4, x2:L.xEnd, y1:L.y0, y2:L.y0, stroke:'#000', 'stroke-width':2.5}, 'x-axis-line');
  xAllTicks.forEach(t => {
    if (xScale(t) <= L.xEnd + 1) make(axisX, 'line', {x1:xScale(t), x2:xScale(t), y1:L.y0 - 4, y2:L.y0 + 4, stroke:'#000', 'stroke-width':1.8}, 'x-tick-' + t);
  });
  const axisY = make(g, 'g', {}, 'y-axis');
  if (L.showY) make(axisY, 'line', {x1:L.x0, x2:L.x0, y1:yScale(100), y2:yScale(0), stroke:'#000', 'stroke-width':2.5}, 'y-axis-line');
  yAllTicks.forEach(v => {
    const tx = L.showY ? L.x0 - 4.5 : L.x0 + 1;
    const tw = L.showY ? 8.5 : 3;
    make(axisY, 'line', {x1:tx, x2:tx + tw, y1:yScale(v), y2:yScale(v), stroke:'#000', 'stroke-width':1.8}, 'y-tick-' + v);
  });

  // Extra low-temperature phase band lying on the x axis
  if (lowFlat.length) {
    make(g, 'polyline', {points:pts(lowFlat), fill:'none', stroke:L.lowColor, 'stroke-width':L.lowColor === ORANGE ? 10 : 6}, 'low-temperature-phase-band');
  }

  // Tick labels
  xTickLabels.forEach((label, i) => {
    const t = make(g, 'text', {x:L.xLabelX[i], y:L.xLabelY, 'font-size':39, 'text-anchor':'middle', 'dominant-baseline':'central', 'letter-spacing':'-1.5'}, 'x-tick-label-' + label);
    t.textContent = label;
  });
  yTickLabels.forEach((label, i) => {
    const t = make(g, 'text', {x:L.yLabelRight, y:L.yLabelY[i], 'font-size':41, 'text-anchor':'end', 'dominant-baseline':'central'}, 'y-tick-label-' + label);
    t.textContent = label;
  });

  // Axis titles
  const xt = make(g, 'text', {x:L.xTitle[0], y:L.xTitle[1], 'font-size':58, 'font-weight':'bold', 'text-anchor':'middle', 'dominant-baseline':'central', 'letter-spacing':'1.1'}, 'x-axis-title');
  xt.textContent = 'Temperature (\u00B0C)';
  const yt = make(g, 'text', {x:L.yTitle[0], y:L.yTitle[1], 'font-size':58, 'font-weight':'bold', 'text-anchor':'middle', 'dominant-baseline':'central', 'letter-spacing':'0.5', transform:'rotate(-90 ' + L.yTitle[0] + ' ' + L.yTitle[1] + ')'}, 'y-axis-title');
  yt.textContent = 'Phase vol.%';

  // Caption
  const cap = make(g, 'text', {x:L.caption[0], y:L.caption[1], 'font-size':54, 'text-anchor':'middle', 'dominant-baseline':'central', style:'font-family:"Liberation Serif",serif'}, 'panel-caption-' + L.id);
  cap.appendChild(document.createTextNode('('));
  const letter = make(cap, 'tspan', {'font-weight':'bold'}, 'panel-letter-' + L.id);
  letter.textContent = L.id;
  cap.appendChild(document.createTextNode(')'));
}

panelLayouts.forEach(L => drawPanel(L, panelData[L.id]));
</script>
</body>
</html>
